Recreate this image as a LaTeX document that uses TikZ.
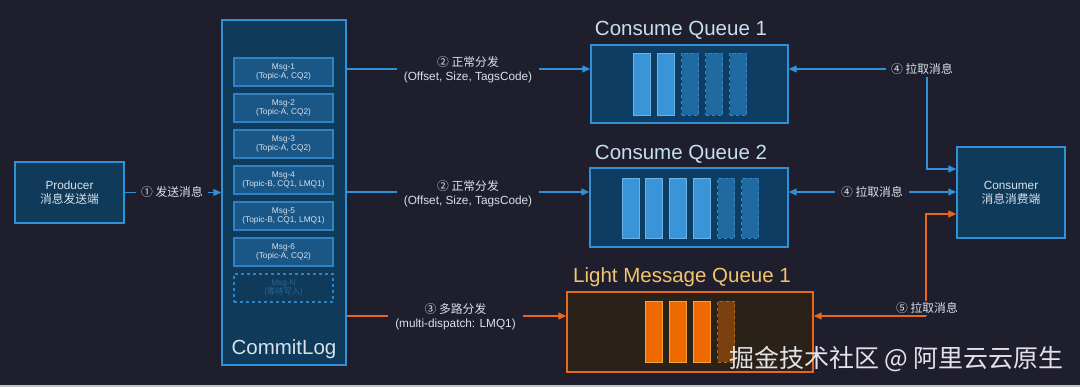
\documentclass[tikz,border=0pt]{standalone}
\usepackage{fontspec}
\setmainfont{Liberation Sans}
\newfontfamily\cjk{Noto Sans CJK SC}
\usetikzlibrary{arrows.meta,calc}
\definecolor{bg}{HTML}{1F1E2C}
\definecolor{boxfill}{HTML}{0F3A5A}
\definecolor{cqfill}{HTML}{0E3D63}
\definecolor{bblue}{HTML}{3190D6}
\definecolor{msgfill}{HTML}{1A5686}
\definecolor{msgline}{HTML}{2F83C4}
\definecolor{barfill}{HTML}{3A95D8}
\definecolor{barline}{HTML}{6CB4E8}
\definecolor{dbarfill}{HTML}{1F6AA0}
\definecolor{dbarline}{HTML}{3A86C0}
\definecolor{txt}{HTML}{D8E2EC}
\definecolor{title}{HTML}{C6DFF0}
\definecolor{lorange}{HTML}{E8671C}
\definecolor{lmqfill}{HTML}{2A2118}
\definecolor{obar}{HTML}{EE6A00}
\definecolor{obarline}{HTML}{F6A23C}
\definecolor{dobar}{HTML}{7A4010}
\definecolor{dobarline}{HTML}{B06A20}
\definecolor{otitle}{HTML}{F0C56E}
\definecolor{wm}{HTML}{E2E2E8}
\begin{document}
\begin{tikzpicture}[x=1pt,y=-1pt,
  bigbox/.style={draw=bblue, fill=boxfill, line width=1.4pt, minimum width=#1},
  msgbox/.style={draw=msgline, fill=msgfill, line width=1.2pt, minimum width=99, minimum height=28,
     inner sep=0pt, align=center, text=txt, font=\fontsize{8.3}{9.8}\selectfont},
  qbox/.style={draw=bblue, fill=cqfill, line width=1.4pt},
  barS/.style={draw=barline, fill=barfill, line width=1pt, minimum width=17, minimum height=#1, inner sep=0pt, anchor=north west},
  barD/.style={draw=dbarline, fill=dbarfill, line width=1pt, dashed, minimum width=17, minimum height=#1, inner sep=0pt, anchor=north west},
  barO/.style={draw=obarline, fill=obar, line width=1pt, minimum width=17, minimum height=61, inner sep=0pt, anchor=north west},
  barOD/.style={draw=dobarline, fill=dobar, line width=1pt, dashed, minimum width=17, minimum height=61, inner sep=0pt, anchor=north west},
  lbl/.style={text=txt, align=center, font=\fontsize{11.8}{14}\selectfont, fill=bg, inner xsep=8pt, inner ysep=2pt},
  ttl/.style={anchor=base, font=\fontsize{20.5}{24}\selectfont},
  arrB/.style={draw=bblue, line width=1.2pt, -{Triangle[length=8pt,width=7pt]}},
  arrO/.style={draw=lorange, line width=1.2pt, -{Triangle[length=8pt,width=7pt]}},
  lineB/.style={draw=bblue, line width=1.2pt},
  lineO/.style={draw=lorange, line width=1.2pt}
]
\fill[bg] (0,0) rectangle (1080,387);
\fill[wm!85!bg] (0,385) rectangle (1080,387);
\useasboundingbox (0,0) rectangle (1080,387);

% Producer
\node[bigbox=109, minimum height=61, align=center, text=txt, font=\fontsize{11.8}{13.8}\selectfont]
  (prod) at (69.5,192.5) {Producer\\{\cjk 消息发送端}};
% CommitLog
\node[bigbox=124, minimum height=345] (cl) at (284,192.5) {};
\node[ttl, text=txt] (cltxt) at (284,355) {CommitLog};
\node[msgbox] (m1) at (283.5,72) {Msg-1\\(Topic-A, CQ2)};
\node[msgbox] (m2) at (283.5,108) {Msg-2\\(Topic-A, CQ2)};
\node[msgbox] (m3) at (283.5,144) {Msg-3\\(Topic-A, CQ2)};
\node[msgbox] (m4) at (283.5,180) {Msg-4\\(Topic-B, CQ1, LMQ1)};
\node[msgbox] (m5) at (283.5,216) {Msg-5\\(Topic-B, CQ1, LMQ1)};
\node[msgbox] (m6) at (283.5,252) {Msg-6\\(Topic-A, CQ2)};
\node[msgbox, fill=none, dashed, text=msgline!70!bg] (mn) at (283.5,288) {Msg-N\\{\cjk (等待写入)}};

% Consume Queue 1
\node[ttl, text=title] (t1) at (681,36) {Consume Queue 1};
\node[qbox, minimum width=197, minimum height=78] (cq1) at (689.5,84) {};
\node[barS=62] (a1) at (633,53) {};
\node[barS=62] (a2) at (657,53) {};
\node[barD=62] (a3) at (681,53) {};
\node[barD=62] (a4) at (705,53) {};
\node[barD=62] (a5) at (729,53) {};

% Consume Queue 2
\node[ttl, text=title] (t2) at (681,160) {Consume Queue 2};
\node[qbox, minimum width=198, minimum height=79] (cq2) at (689,207.5) {};
\node[barS=60] (b1) at (622,178) {};
\node[barS=60] (b2) at (645,178) {};
\node[barS=60] (b3) at (669,178) {};
\node[barS=60] (b4) at (693,178) {};
\node[barD=60] (b5) at (717,178) {};
\node[barD=60] (b6) at (741,178) {};

% Light Message Queue 1
\node[ttl, text=otitle] (t3) at (682,283) {Light Message Queue 1};
\node[draw=lorange, fill=lmqfill, line width=1.4pt, minimum width=246, minimum height=80] (lmq) at (690,332) {};
\node[barO] (c1) at (645,301) {};
\node[barO] (c2) at (669,301) {};
\node[barO] (c3) at (693,301) {};
\node[barOD] (c4) at (717,301) {};

% Consumer
\node[bigbox=108, minimum height=91, align=center, text=txt, font=\fontsize{11.8}{13.8}\selectfont]
  (cons) at (1011,192.5) {Consumer\\{\cjk 消息消费端}};

% 1: producer -> commitlog
\draw[arrB] (prod.east) -- (prod.east -| cl.west);
\node[lbl, inner xsep=5pt] (l1) at (172,192) {{\cjk ① 发送消息}};

% 2: commitlog -> CQ1 / CQ2
\node[lbl, inner xsep=7pt] (l2a) at (468,70) {{\cjk ② 正常分发}\\(Offset, Size, TagsCode)};
\draw[lineB] (cl.east |- 0,69) -- (l2a.west |- 0,69);
\draw[arrB] (l2a.east |- 0,69) -- (cq1.west |- 0,69);
\node[lbl, inner xsep=7pt] (l2b) at (468,194) {{\cjk ② 正常分发}\\(Offset, Size, TagsCode)};
\draw[lineB] (cl.east |- 0,192) -- (l2b.west |- 0,192);
\draw[arrB] (l2b.east |- 0,192) -- (cq2.west |- 0,192);

% 3: commitlog -> LMQ1
\node[lbl, inner xsep=7pt] (l3) at (455.5,317) {{\cjk ③ 多路分发}\\(multi-dispatch: LMQ1)};
\draw[lineO] (cl.east |- 0,316) -- (l3.west |- 0,316);
\draw[arrO] (l3.east |- 0,316) -- (lmq.west |- 0,316);

% 4: consumer pulls CQ1
\coordinate (k4) at (927,69);
\draw[arrB] (k4) -- (cq1.east |- k4);
\draw[arrB] (k4) |- ([yshift=23.5pt]cons.west);
\node[lbl, inner xsep=5pt] (l4a) at (922,69) {{\cjk ④ 拉取消息}};

% 4: consumer pulls CQ2
\node[lbl, inner xsep=6pt] (l4b) at (872,192) {{\cjk ④ 拉取消息}};
\draw[arrB] (l4b.west) -- (cq2.east |- l4b);
\draw[arrB] (l4b.east) -- (cons.west |- l4b);

% 5: consumer pulls LMQ1
\coordinate (k5) at (926,316);
\draw[arrO] (k5) -- (lmq.east |- k5);
\draw[arrO] (k5) |- ([yshift=-21.5pt]cons.west);
\node[lbl, inner xsep=4pt, inner ysep=1pt] (l5) at (927,308) {{\cjk ⑤ 拉取消息}};

% watermark
\node[anchor=base, text=wm, font=\fontsize{25}{29}\selectfont, inner sep=0pt] (wmk) at (896.5,368) {{\cjk 掘金技术社区 @ 阿里云云原生}};
\end{tikzpicture}
\end{document}
